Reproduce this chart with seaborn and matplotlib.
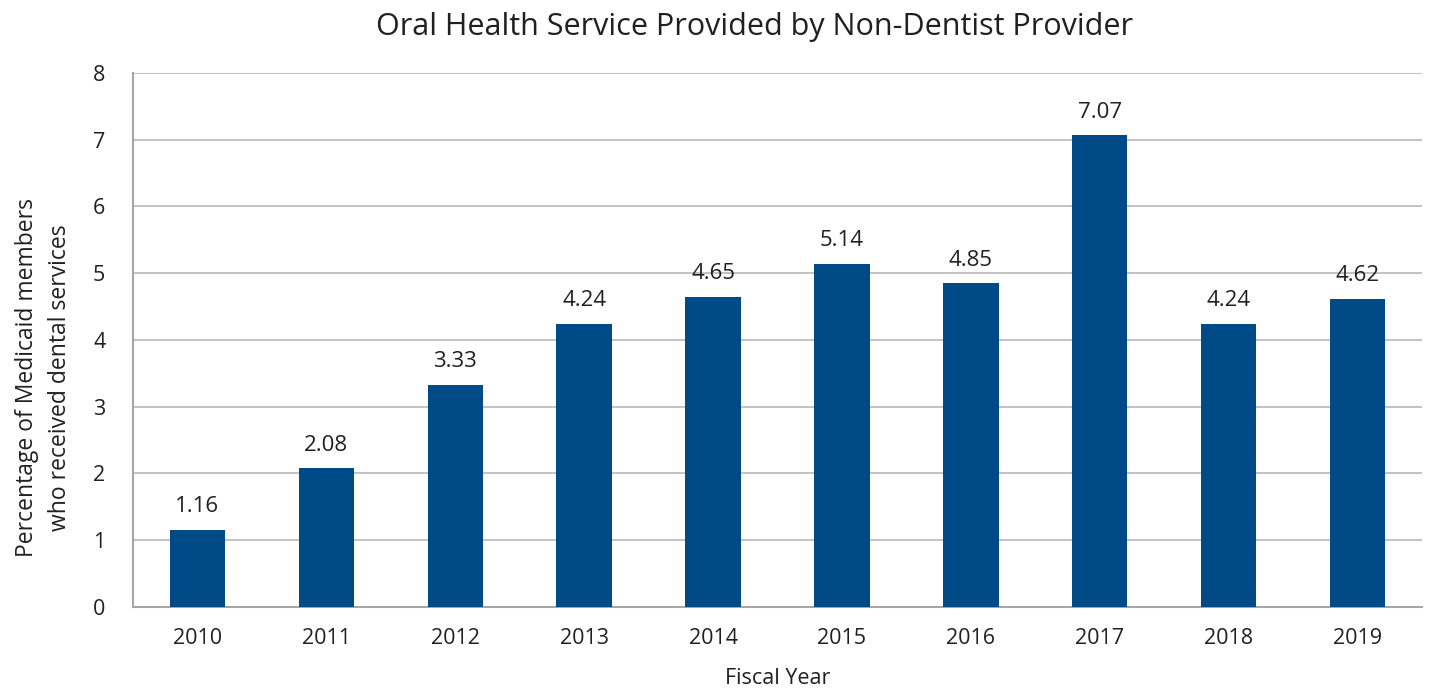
import matplotlib
matplotlib.use("Agg")
import matplotlib.pyplot as plt
import seaborn as sns
import pandas as pd

years = ["2010", "2011", "2012", "2013", "2014", "2015", "2016", "2017", "2018", "2019"]
values = [1.16, 2.08, 3.33, 4.24, 4.65, 5.14, 4.85, 7.07, 4.24, 4.62]

df = pd.DataFrame({"year": years, "pct": values})

sns.set_style("white")
plt.rcParams['font.family'] = ['Open Sans', 'DejaVu Sans']

fig = plt.figure(figsize=(14.29, 6.94), dpi=100)
ax = fig.add_axes([0.0931, 0.1254, 0.902, 0.7694])

sns.barplot(data=df, x="year", y="pct", color="#004A87", width=0.43, saturation=1,
            linewidth=0, ax=ax, zorder=3)
ax.bar_label(ax.containers[0], labels=[f"{v:.2f}" for v in values], padding=9,
             fontsize=16, color="#231f20")

ax.set_ylim(0, 8)
ax.set_xlim(-0.5, 9.5)
ax.set_yticks(range(0, 9))
ax.yaxis.grid(True, color="#bdbdbd", linewidth=1.3, zorder=0)
ax.set_axisbelow(True)
for s in ["top", "right"]:
    ax.spines[s].set_visible(False)
for s in ["left", "bottom"]:
    ax.spines[s].set_color("#a6a6a6")
    ax.spines[s].set_linewidth(1.5)
ax.tick_params(axis="both", length=0, labelsize=15.5, colors="#231f20")
ax.tick_params(axis="x", pad=15)
ax.tick_params(axis="y", pad=20)

ax.set_xlabel("Fiscal Year", fontsize=15.5, color="#231f20", labelpad=14)
ax.set_ylabel("Percentage of Medicaid members\nwho received dental services", fontsize=16.5,
              color="#231f20", linespacing=1.55)
ax.yaxis.set_label_coords(-0.047, 0.43)
fig.suptitle("Oral Health Service Provided by Non-Dentist Provider", fontsize=22,
             color="#231f20", x=0.528, y=0.982)

plt.savefig("out.png", dpi=100)
